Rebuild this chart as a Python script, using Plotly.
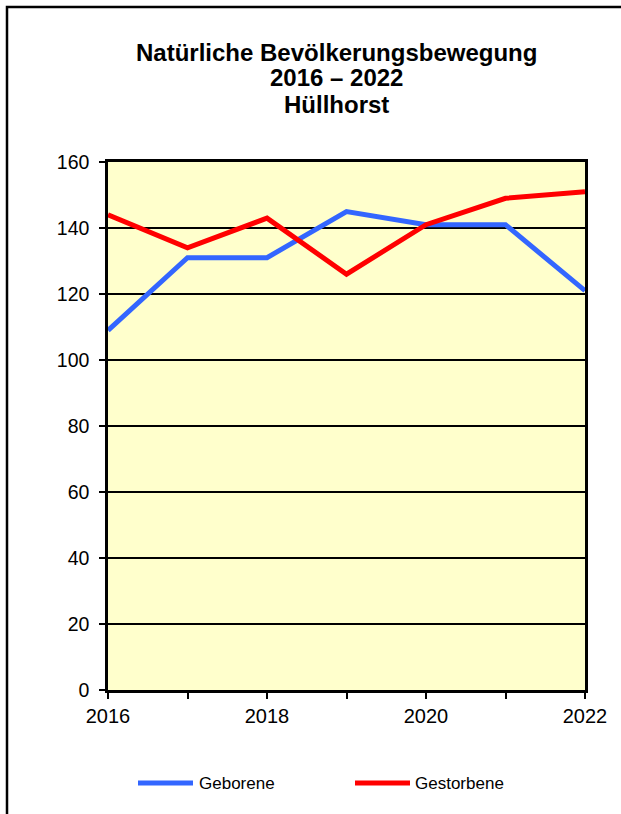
import plotly.graph_objects as go

years = [2016, 2017, 2018, 2019, 2020, 2021, 2022]
geborene = [109, 131, 131, 145, 141, 141, 121]
gestorbene = [144, 134, 143, 126, 141, 149, 151]
series_names = ["Geborene", "Gestorbene"]
series_colors = ["#3366FF", "#FF0000"]
x_tick_labels = ["2016", "", "2018", "", "2020", "", "2022"]
y_ticks = [0, 20, 40, 60, 80, 100, 120, 140, 160]
title_lines = ["Natürliche Bevölkerungsbewegung", "2016 – 2022", "Hüllhorst"]

W, H = 621, 814
L, R, T, B = 108, 36, 162, 124
pw, ph = W - L - R, H - T - B

def px(x):
    return (x - L) / pw

def py(y):
    return (H - B - y) / ph

FONT = "Liberation Sans, Arial, sans-serif"

fig = go.Figure()
for name, vals, col in zip(series_names, [geborene, gestorbene], series_colors):
    fig.add_trace(go.Scatter(x=years, y=vals, mode="lines", name=name,
                             line=dict(color=col, width=5), showlegend=False,
                             cliponaxis=False))

shapes = [
    dict(type="rect", xref="paper", yref="paper",
         x0=px(7), x1=px(700), y0=py(7), y1=py(900),
         line=dict(color="black", width=2.5), fillcolor="rgba(0,0,0,0)", layer="below"),
]
annotations = []
for line_text, yc in zip(title_lines, [52, 78, 104]):
    annotations.append(dict(xref="paper", yref="paper", x=px(336), y=py(yc),
                            text="<b>%s</b>" % line_text, showarrow=False,
                            xanchor="center", yanchor="middle",
                            font=dict(family=FONT, size=24, color="black")))
leg_items = [(138, 193, 197), (355, 410, 413)]
for (x0, x1, tx), name, col in zip(leg_items, series_names, series_colors):
    shapes.append(dict(type="line", xref="paper", yref="paper",
                       x0=px(x0), x1=px(x1), y0=py(783), y1=py(783),
                       line=dict(color=col, width=5)))
    annotations.append(dict(xref="paper", yref="paper", x=px(tx), y=py(783),
                            text=name, showarrow=False, xanchor="left", yanchor="middle",
                            font=dict(family=FONT, size=17, color="black")))

fig.update_layout(
    width=W, height=H,
    margin=dict(l=L, r=R, t=T, b=B),
    paper_bgcolor="white",
    plot_bgcolor="#FFFFCC",
    shapes=shapes,
    annotations=annotations,
    font=dict(family=FONT, color="black"),
)
fig.update_xaxes(range=[2016, 2022], tickvals=years, ticktext=x_tick_labels,
                 ticks="outside", ticklen=6, tickwidth=2, tickcolor="black",
                 showline=True, linecolor="black", linewidth=2.5, mirror=True,
                 showgrid=False, zeroline=False,
                 tickfont=dict(family=FONT, size=20, color="black"))
fig.update_yaxes(range=[0, 160], tickvals=y_ticks,
                 ticks="outside", ticklen=6, tickwidth=2, tickcolor="black",
                 showline=True, linecolor="black", linewidth=2.5, mirror=True,
                 showgrid=True, gridcolor="black", gridwidth=2, zeroline=False,
                 ticklabelstandoff=6,
                 tickfont=dict(family=FONT, size=19.5, color="black"))

fig.write_html("out.html", config={"displayModeBar": False},
               post_script="document.body.style.margin='0';document.body.style.overflow='hidden';")
